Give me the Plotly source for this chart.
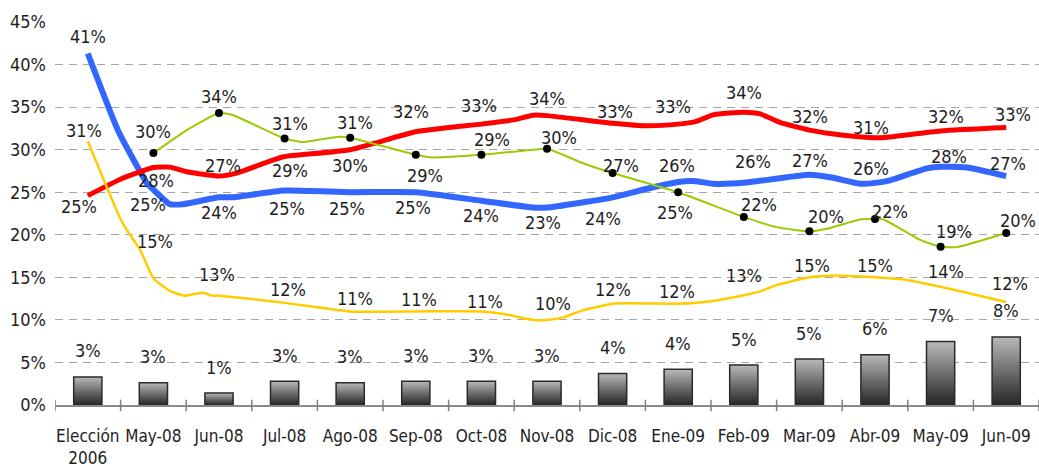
import plotly.graph_objects as go

# Categories (x axis)
categories = ["Elección<br>2006", "May-08", "Jun-08", "Jul-08", "Ago-08", "Sep-08",
              "Oct-08", "Nov-08", "Dic-08", "Ene-09", "Feb-09", "Mar-09", "Abr-09",
              "May-09", "Jun-09"]

# Bar series (one value per category)
bar_vals = [3.3, 2.6, 1.4, 2.8, 2.6, 2.8, 2.8, 2.8, 3.7, 4.2, 4.7, 5.4, 5.9, 7.45, 8.0]

# Line series: positions along the category axis and the values there
blue_x = [0, 0.47, 0.9, 1, 1.25, 1.45, 2, 2.2, 3, 4, 5, 6, 6.79, 7, 8, 8.57, 9, 9.26,
          9.53, 10, 11, 11.36, 11.77, 12, 12.23, 12.79, 13, 13.4, 14]
blue_y = [41.3, 32.1, 26.1, 25.3, 23.6, 23.6, 24.4, 24.4, 25.2, 25.0, 25.0, 24.0, 23.2,
          23.2, 24.4, 25.5, 26.2, 26.3, 26.0, 26.1, 27.05, 26.7, 26.0, 26.1, 26.4, 27.8,
          28.0, 27.9, 26.9]

red_x = [0, 0.49, 1, 1.25, 1.51, 2, 2.27, 2.83, 3, 4, 5, 6, 6.49, 6.79, 7, 8, 8.52, 9,
         9.26, 9.54, 10, 10.25, 10.55, 11, 11.52, 12, 12.23, 13, 14]
red_y = [24.6, 26.5, 27.9, 27.95, 27.4, 26.9, 27.25, 28.8, 29.2, 30.0, 32.1, 33.0, 33.5,
         34.05, 34.0, 33.1, 32.8, 33.0, 33.3, 34.1, 34.4, 34.2, 33.2, 32.3, 31.7, 31.4,
         31.5, 32.2, 32.6]

green_x = [1, 1.51, 2, 2.2, 3, 3.29, 3.8, 4, 5, 5.22, 6, 6.79, 7, 7.55, 8, 9, 10, 10.5,
           11, 11.27, 11.77, 12, 12.13, 12.69, 13, 13.25, 14]
green_y = [29.6, 32.3, 34.3, 34.1, 31.3, 30.9, 31.5, 31.4, 29.4, 29.1, 29.4, 30.0, 30.1,
           28.4, 27.25, 25.0, 22.1, 20.9, 20.4, 20.7, 21.8, 21.85, 21.8, 19.4, 18.6, 18.55,
           20.2]

yellow_x = [0, 0.49, 0.59, 0.8, 1, 1.25, 1.48, 1.76, 1.89, 2, 3, 4, 5, 6, 6.34, 6.79, 7,
            7.25, 7.5, 8, 9, 9.51, 10, 10.25, 10.5, 11, 11.27, 11.5, 12, 12.48, 13, 14]
yellow_y = [31.0, 22.0, 20.6, 18.2, 14.9, 13.4, 12.85, 13.2, 12.85, 12.85, 12.0, 11.0,
            11.0, 11.0, 10.7, 10.0, 10.0, 10.3, 11.0, 11.9, 11.9, 12.2, 12.9, 13.35, 14.1,
            15.0, 15.2, 15.2, 15.0, 14.7, 13.9, 12.1]

# Label offsets in pixels (dx, dy; dy positive = downwards), one per category point
blue_off = [(0, -17), (-5, 15), (0, 15), (2, 18), (-3, 16), (-3, 15), (0, 15), (-4, 15),
            (-10, 21), (-1, -17), (9, -21), (1, -14), (-4, -14), (8, -10), (2, -13)]
red_off = [(-9, 11), (3, 13), (4, -11), (5, 14), (0, 16), (-5, -20), (-2, -19), (0, -17),
           (2, -12), (-5, -18), (0, -20), (1, -14), (-4, -10), (5, -14), (7, -13)]
green_off = [None, (0, -22), (0, -17), (5, -15), (5, -15), (9, 21), (11, -15), (12, -11),
             (8, -8), (-3, 20), (15, -12), (17, -15), (15, -8), (13, -15), (12, -13)]
yellow_off = [(-4, -11), (2, -37), (-2, -21), (3, -13), (5, -13), (3, -12), (4, -10),
              (6, -16), (0, -14), (-1, -12), (0, -20), (3, -12), (0, -12), (5, -15), (4, -19)]
BAR_LABEL_SHIFT = 26

FONT = "DejaVu Sans Condensed, DejaVu Sans, sans-serif"
TXT = "#1e1e1e"
FSIZE = 18


def fnt(size=FSIZE):
    return dict(family=FONT, size=size, color=TXT)


fig = go.Figure()

# Bars drawn as filled outlines so each one gets its own vertical gradient
half_w = 0.215
for i, v in enumerate(bar_vals):
    fig.add_trace(go.Scatter(
        x=[i - half_w, i + half_w, i + half_w, i - half_w, i - half_w],
        y=[0, 0, v, v, 0],
        mode="lines", fill="toself",
        fillgradient=dict(type="vertical",
                          colorscale=[[0, "#262626"], [0.5, "#6e6e6e"], [1, "#b9b9b9"]]),
        line=dict(color="#2a2a2a", width=1.5),
        hoverinfo="skip", showlegend=False))

# Drawing order: blue at the bottom, then red, yellow, green
line_specs = [
    (blue_x, blue_y, "#3366FF", 6, "azul"),
    (red_x, red_y, "#FF0000", 5, "roja"),
    (yellow_x, yellow_y, "#FFCC00", 2.5, "amarilla"),
    (green_x, green_y, "#99CC00", 2, "verde"),
]
for xs, ys, col, w, nm in line_specs:
    fig.add_trace(go.Scatter(
        x=xs, y=ys, mode="lines", name=nm,
        line=dict(color=col, width=w, shape="spline", smoothing=0.5),
        showlegend=False, hoverinfo="skip"))

# Black markers on the green series at each category
g_cat = [(x, y) for x, y in zip(green_x, green_y) if float(x).is_integer()]
fig.add_trace(go.Scatter(
    x=[p[0] for p in g_cat], y=[p[1] for p in g_cat], mode="markers",
    marker=dict(color="black", size=8), showlegend=False, hoverinfo="skip"))

annotations = []


def add_labels(xs, ys, offsets):
    pts = {int(x): y for x, y in zip(xs, ys) if float(x).is_integer()}
    for k, off in enumerate(offsets):
        if off is None or k not in pts:
            continue
        v = pts[k]
        annotations.append(dict(
            x=k, y=v, text=f"{round(v)}%", showarrow=False,
            xshift=off[0], yshift=-off[1], font=fnt()))


add_labels(blue_x, blue_y, blue_off)
add_labels(red_x, red_y, red_off)
add_labels(green_x, green_y, green_off)
add_labels(yellow_x, yellow_y, yellow_off)
for i, v in enumerate(bar_vals):
    annotations.append(dict(
        x=i, y=v, text=f"{round(v)}%", showarrow=False, yshift=BAR_LABEL_SHIFT,
        font=fnt()))

# Tick marks crossing the axis line at the category boundaries
shapes = []
for k in range(len(categories) + 1):
    shapes.append(dict(type="line", xref="x", yref="paper",
                       x0=k - 0.5, x1=k - 0.5, y0=-0.016, y1=0.014,
                       line=dict(color="#7f7f7f", width=1.5)))

fig.update_layout(
    width=1039, height=475, autosize=False,
    margin=dict(l=55, r=0, t=22, b=70),
    paper_bgcolor="white", plot_bgcolor="white",
    font=fnt(),
    annotations=annotations, shapes=shapes,
    xaxis=dict(range=[-0.5, len(categories) - 0.5],
               tickmode="array", tickvals=list(range(len(categories))),
               ticktext=categories, showgrid=False, zeroline=False,
               showline=True, linecolor="#8a8a8a", linewidth=1.5,
               ticks="", ticklabelstandoff=15, tickfont=fnt(17)),
    yaxis=dict(range=[0, 45], dtick=5, ticksuffix="%",
               showgrid=True, gridcolor="#a6a6a6", gridwidth=1.2, griddash="8px,6px",
               zeroline=False, showline=False, ticks="", ticklabelstandoff=8,
               tickfont=fnt()),
)

fig.write_html("out.html")
